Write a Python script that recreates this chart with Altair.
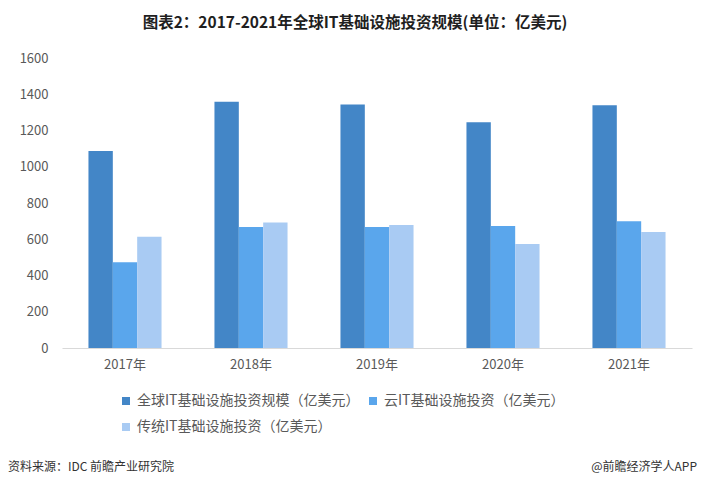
import altair as alt
import pandas as pd

years = ["2017年", "2018年", "2019年", "2020年", "2021年"]
series_names = [
    "全球IT基础设施投资规模（亿美元）",
    "云IT基础设施投资（亿美元）",
    "传统IT基础设施投资（亿美元）",
]
global_vals = [1087, 1359, 1343, 1245, 1339]
cloud_vals = [473, 668, 668, 673, 699]
trad_vals = [614, 693, 679, 574, 640]
colors = ["#4386C7", "#5AA6EC", "#A9CBF3"]
y_ticks = [0, 200, 400, 600, 800, 1000, 1200, 1400, 1600]

title_text = "图表2：2017-2021年全球IT基础设施投资规模(单位：亿美元)"
source_text = "资料来源：IDC 前瞻产业研究院"
brand_text = "@前瞻经济学人APP"

rows = []
for i, y in enumerate(years):
    for name, vals in zip(series_names, [global_vals, cloud_vals, trad_vals]):
        rows.append({"year": y, "series": name, "value": vals[i]})
df = pd.DataFrame(rows)

FONT = "Noto Sans CJK SC"

bars = alt.Chart(df).mark_bar().encode(
    x=alt.X(
        "year:N",
        sort=years,
        title=None,
        scale=alt.Scale(paddingInner=0.42, paddingOuter=0.21),
        axis=alt.Axis(
            labelAngle=0,
            domainColor="#D9D9D9",
            domainWidth=1,
            ticks=False,
            labelFontSize=13,
            labelColor="#595959",
            labelPadding=10,
            labelFont=FONT,
        ),
    ),
    xOffset=alt.XOffset(
        "series:N",
        sort=series_names,
        scale=alt.Scale(domain=series_names, paddingInner=0, paddingOuter=0),
    ),
    y=alt.Y(
        "value:Q",
        title=None,
        scale=alt.Scale(domain=[0, 1600], nice=False),
        axis=alt.Axis(
            values=y_ticks,
            format="d",
            grid=False,
            domain=False,
            ticks=False,
            labelPadding=14,
            labelFontSize=13,
            labelColor="#595959",
            labelFont=FONT,
        ),
    ),
    color=alt.Color(
        "series:N",
        sort=series_names,
        scale=alt.Scale(domain=series_names, range=colors),
        legend=alt.Legend(
            title=None,
            orient="none",
            legendX=57,
            legendY=336,
            direction="horizontal",
            columns=2,
            symbolType="square",
            symbolSize=64,
            symbolStrokeWidth=0,
            labelFontSize=14,
            labelLimit=0,
            labelColor="#595959",
            labelFont=FONT,
            columnPadding=6,
            rowPadding=12,
            labelOffset=4,
            padding=0,
        ),
    ),
)

footer_l = alt.Chart(pd.DataFrame({"t": [source_text]})).mark_text(
    align="left", baseline="middle", fontSize=12, color="#333333", font=FONT
).encode(text="t:N", x=alt.value(-54), y=alt.value(409))

footer_r = alt.Chart(pd.DataFrame({"t": [brand_text]})).mark_text(
    align="right", baseline="middle", fontSize=12, color="#333333", font=FONT
).encode(text="t:N", x=alt.value(635), y=alt.value(409))

chart = alt.layer(bars, footer_l, footer_r).properties(
    width=630,
    height=290,
    title=alt.TitleParams(
        title_text,
        fontSize=15.5,
        fontWeight="bold",
        font=FONT,
        color="#1F1F1F",
        anchor="middle",
        dx=-22,
        offset=21,
    ),
    autosize=alt.AutoSizeParams(type="none"),
    padding={"left": 62, "top": 58, "right": 11, "bottom": 141},
    background="white",
).configure_view(stroke=None, strokeWidth=0)

chart.save("out.html", embed_options={"renderer": "svg", "actions": False})
